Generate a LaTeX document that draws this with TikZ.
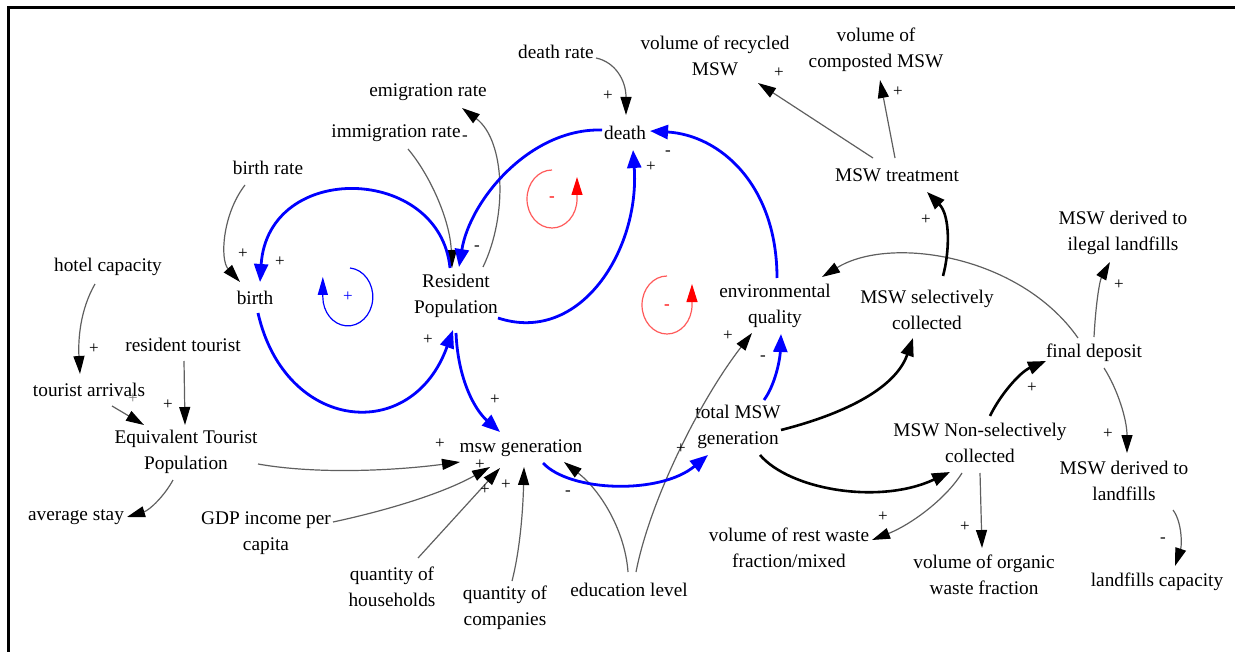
\documentclass[tikz,border=0pt]{standalone}
\usepackage{fontspec}
\setmainfont{Liberation Serif}
\usetikzlibrary{arrows.meta,calc}
\definecolor{linkgray}{RGB}{95,95,95}
\definecolor{looppink}{RGB}{255,90,90}
\begin{document}
\begin{tikzpicture}[x=0.5pt,y=-0.5pt,
  lbl/.style={font=\fontsize{9.65}{13}\selectfont, align=center, inner sep=0pt},
  pol/.style={font=\fontsize{8.5}{9}\selectfont, inner sep=0pt},
  thinlink/.style={draw=linkgray, line width=0.6pt, -{Triangle[length=9pt,width=5.5pt,color=black]}},
  bluelink/.style={draw=blue, line width=1.4pt, -{Triangle[length=9pt,width=7pt]}},
  blacklink/.style={draw=black, line width=1.3pt, -{Triangle[length=9pt,width=6.5pt]}},
  blueloop/.style={draw=blue, line width=0.6pt, -{Triangle[length=9pt,width=5pt]}},
  redloop/.style={draw=looppink, line width=0.6pt, -{Triangle[length=9pt,width=5.5pt,color=red]}}
]
\useasboundingbox (0,0) rectangle (1235,652);
\draw[line width=1.5pt] (8,652) -- (8,8) -- (1235,8);

% nodes
\node[lbl] (dr) at (556,52) {death rate};
\node[lbl] (vr) at (715,56) {volume of recycled\\MSW};
\node[lbl] (vc) at (876,50) {volume of\\composted MSW};
\node[lbl] (er) at (428,92) {emigration rate};
\node[lbl] (ir) at (396,133) {immigration rate};
\node[lbl] (de) at (625,133) {death};
\node[lbl] (br) at (268,168) {birth rate};
\node[lbl] (mt) at (897,175) {MSW treatment};
\node[lbl] (il) at (1123,233) {MSW derived to\\ilegal landfills};
\node[lbl] (hc) at (108,267) {hotel capacity};
\node[lbl] (bi) at (255,298) {birth};
\node[lbl] (rp) at (456,296) {Resident\\Population};
\node[lbl] (eq) at (775,306) {environmental\\quality};
\node[lbl] (sc) at (927,310) {MSW selectively\\collected};
\node[lbl] (fd) at (1094,353) {final deposit};
\node[lbl] (rt) at (183,345) {resident tourist};
\node[lbl] (ta) at (89,390) {tourist arrivals};
\node[lbl] (et) at (186,452) {Equivalent Tourist\\Population};
\node[lbl] (mg) at (521,448) {msw generation};
\node[lbl] (tm) at (738,427) {total MSW\\generation};
\node[lbl] (nc) at (980,443) {MSW Non-selectively\\collected};
\node[lbl] (dl) at (1124,481) {MSW derived to\\landfills};
\node[lbl] (as) at (76,517) {average stay};
\node[lbl] (gdp) at (266,533) {GDP income per\\capita};
\node[lbl] (vw) at (789,548) {volume of rest waste\\fraction/mixed};
\node[lbl] (vo) at (984,575) {volume of organic\\waste fraction};
\node[lbl] (lc) at (1157,582) {landfills capacity};
\node[lbl] (qh) at (392,587) {quantity of\\households};
\node[lbl] (qc) at (505,608) {quantity of\\companies};
\node[lbl] (el) at (629,590) {education level};

% thin links
\draw[thinlink] ($(dr)+(40,6)$) .. controls +(19,4) and +(0,-35) .. ($(de)+(1,-18)$);
\draw[thinlink] ($(rp)+(27,-29)$) .. controls +(25,-52) and +(43,32) .. ($(er)+(34,16)$);
\draw[thinlink] ($(ir)+(12,16)$) .. controls +(22,26) and +(-2,-48) .. ($(rp)+(-4,-28)$);
\draw[thinlink] ($(br)+(-23,17)$) .. controls +(-23,30) and +(-20,-22) .. ($(bi)+(-15,-16)$);
\draw[thinlink] ($(el)+(7,-18)$) .. controls +(14,-72) and +(-52,67) .. ($(eq)+(-23,27)$);
\draw[thinlink] ($(el)+(-1,-18)$) .. controls +(-3,-42) and +(36,28) .. ($(mg)+(43,14)$);
\draw[thinlink] ($(mt)+(-24,-17)$) -- ($(vr)+(43,27)$);
\draw[thinlink] ($(mt)+(-2,-17)$) -- ($(vc)+(4,30)$);
\draw[thinlink] ($(fd)+(-16,-15)$) .. controls +(-58,-83) and +(68,-42) .. ($(eq)+(47,-29)$);
\draw[thinlink] ($(fd)+(0,-16)$) .. controls +(2,-37) and +(-10,18) .. ($(il)+(-13,29)$);
\draw[thinlink] ($(fd)+(10,15)$) .. controls +(14,22) and +(0,-33) .. ($(dl)+(3,-28)$);
\draw[thinlink] ($(dl)+(49,29)$) .. controls +(9,12) and +(7,-21) .. ($(lc)+(18,-16)$);
\draw[thinlink] ($(nc)+(-18,30)$) .. controls +(-17,27) and +(38,-15) .. ($(vw)+(83,-8)$);
\draw[thinlink] ($(nc)+(0,30)$) -- ($(vo)+(-2,-27)$);
\draw[thinlink] ($(hc)+(-13,17)$) .. controls +(-15,26) and +(-2,-34) .. ($(ta)+(-9,-16)$);
\draw[thinlink] ($(rt)+(1,16)$) -- ($(et)+(-1,-27)$);
\draw[thinlink] ($(ta)+(23,16)$) -- ($(et)+(-42,-27)$);
\draw[thinlink] ($(et)+(-13,28)$) .. controls +(-8,15) and +(23,-7) .. ($(as)+(51,0)$);
\draw[thinlink] ($(et)+(72,12)$) .. controls +(62,11) and +(-60,8) .. ($(mg)+(-61,14)$);
\draw[thinlink] ($(gdp)+(67,-11)$) .. controls +(47,-10) and +(-50,28) .. ($(mg)+(-31,19)$);
\draw[thinlink] ($(qh)+(26,-29)$) -- ($(mg)+(-21,20)$);
\draw[thinlink] ($(qc)+(7,-27)$) .. controls +(8,-31) and +(-1,43) .. ($(mg)+(3,19)$);

% blue links
\draw[bluelink] ($(rp)+(-6,-28)$) .. controls +(-10,-103) and +(8,-122) .. ($(bi)+(5,-16)$);
\draw[bluelink] ($(bi)+(3,15)$) .. controls +(27,119) and +(-41,115) .. ($(rp)+(-3,34)$);
\draw[bluelink] ($(de)+(-23,-3)$) .. controls +(-72,-2) and +(11,-67) .. ($(rp)+(3,-29)$);
\draw[bluelink] ($(rp)+(42,22)$) .. controls +(82,27) and +(7,100) .. ($(de)+(8,17)$);
\draw[bluelink] ($(eq)+(2,-28)$) .. controls +(0,-93) and +(70,4) .. ($(de)+(25,-2)$);
\draw[bluelink] ($(rp)+(0,37)$) .. controls +(2,47) and +(-25,-22) .. ($(mg)+(-21,-16)$);
\draw[bluelink] ($(mg)+(22,15)$) .. controls +(27,29) and +(-48,40) .. ($(tm)+(-30,28)$);
\draw[bluelink] ($(tm)+(26,-27)$) .. controls +(11,-15) and +(-1,26) .. ($(eq)+(6,28)$);

% black thick links
\draw[blacklink] ($(tm)+(43,3)$) .. controls +(59,-15) and +(-18,52) .. ($(sc)+(-14,28)$);
\draw[blacklink] ($(tm)+(22,28)$) .. controls +(30,35) and +(-70,33) .. ($(nc)+(-30,29)$);
\draw[blacklink] ($(sc)+(16,-34)$) .. controls +(7,-26) and +(23,23) .. ($(mt)+(30,17)$);
\draw[blacklink] ($(nc)+(10,-27)$) .. controls +(10,-21) and +(-26,11) .. ($(fd)+(-48,8)$);

% loop indicators
\coordinate (loopB) at (348,297);
\coordinate (loopR1) at (552,199);
\coordinate (loopR2) at (667,305);
\draw[blueloop] ($(loopB)+(2,-29)$) arc[start angle=-85, end angle=180, x radius=25, y radius=29] -- ++(0,-20);
\draw[redloop] ($(loopR1)+(0,-29)$) arc[start angle=-90, end angle=-360, x radius=25, y radius=29] -- ++(0,-22);
\draw[redloop] ($(loopR2)+(0,-29)$) arc[start angle=-90, end angle=-360, x radius=25, y radius=29] -- ++(0,-21);
\node[pol, text=blue] at (loopB) {+};
\node[pol, text=red] at (loopR1) {-};
\node[pol, text=red] at ($(loopR2)+(0,2)$) {-};

% polarity signs
\node[pol] at (608,96) {+};
\node[pol] at (465,138) {-};
\node[pol] at (477,248) {-};
\node[pol] at (651,167) {+};
\node[pol] at (668,153) {-};
\node[pol] at (243,254) {+};
\node[pol] at (280,262) {+};
\node[pol] at (428,340) {+};
\node[pol] at (495,400) {+};
\node[pol] at (440,444) {+};
\node[pol] at (480,465) {+};
\node[pol] at (485,490) {+};
\node[pol] at (506,485) {+};
\node[pol] at (568,493) {-};
\node[pol] at (681,449) {+};
\node[pol] at (728,336) {+};
\node[pol] at (763,358) {-};
\node[pol] at (779,73) {+};
\node[pol] at (898,92) {+};
\node[pol] at (926,220) {+};
\node[pol] at (1119,285) {+};
\node[pol] at (1032,388) {+};
\node[pol] at (1108,434) {+};
\node[pol] at (1163,540) {-};
\node[pol] at (883,517) {+};
\node[pol] at (965,527) {+};
\node[pol] at (94,349) {+};
\node[pol] at (168,405) {+};
\node[pol, text=gray] at (133,399) {+};
\end{tikzpicture}
\end{document}
